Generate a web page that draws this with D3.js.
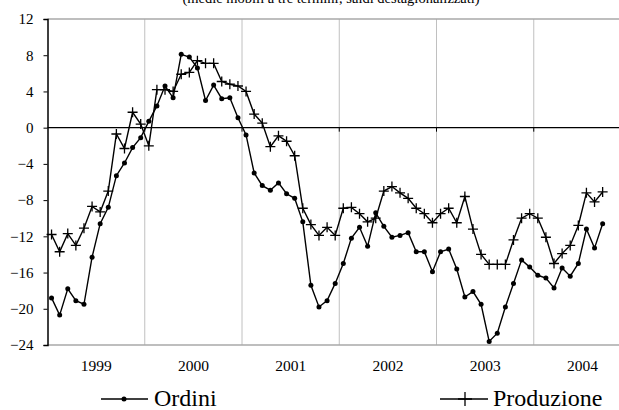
<!DOCTYPE html>
<html><head><meta charset="utf-8">
<script src="https://cdn.jsdelivr.net/npm/d3@7"></script>
<style>html,body{margin:0;padding:0;background:#fff;overflow:hidden}svg{display:block;font-family:"Liberation Serif","Times New Roman",serif}</style>
</head><body>
<svg id="c" width="619" height="410"></svg>
<script>
const title = "(medie mobili a tre termini; saldi destagionalizzati)";
const years = ["1999","2000","2001","2002","2003","2004"];
const yTicks = [12, 8, 4, 0, -4, -8, -12, -16, -20, -24];
const ordini = [
-18.8,-20.7,-17.8,-19.1,-19.5,-14.3,-10.6,-8.8,-5.3,-3.9,-2.2,-1.1,
0.7,2.4,4.6,3.3,8.1,7.8,6.6,3.0,4.7,3.2,3.3,1.1,
-0.8,-5.0,-6.4,-6.9,-6.1,-7.3,-7.8,-10.4,-17.4,-19.8,-19.1,-17.2,
-15.0,-12.2,-11.0,-13.1,-9.4,-10.9,-12.1,-11.9,-11.6,-13.7,-13.7,-15.9,
-13.7,-13.4,-15.6,-18.7,-18.1,-19.5,-23.6,-22.7,-19.8,-17.2,-14.6,-15.4,
-16.3,-16.6,-17.7,-15.5,-16.4,-15.0,-11.2,-13.3,-10.6];
const produzione = [
-11.8,-13.7,-11.7,-13.0,-11.1,-8.7,-9.3,-7.0,-0.7,-2.3,1.7,0.4,
-2.0,4.2,4.2,4.0,5.9,6.1,7.4,7.1,7.1,5.1,4.8,4.6,
4.0,1.5,0.5,-2.1,-0.9,-1.5,-3.1,-8.9,-10.7,-11.9,-11.0,-11.9,
-8.9,-8.8,-9.5,-10.4,-10.0,-7.0,-6.5,-7.2,-7.8,-8.9,-9.5,-10.5,
-9.5,-8.9,-10.5,-7.6,-11.2,-14.0,-15.1,-15.1,-15.1,-12.4,-10.0,-9.5,
-10.0,-12.1,-15.0,-13.9,-13.0,-10.8,-7.2,-8.2,-7.1];
const seriesNames = ["Ordini","Produzione"];

const svg = d3.select("#c");
const nMonths = years.length*12;
const x = d3.scaleLinear().domain([0,nMonths]).range([47.5,631]);
const y = d3.scaleLinear().domain([-24,12]).range([345,19]);

// title (clipped at top, as in the reference)
svg.append("text").attr("x",331).attr("y",2.5).attr("text-anchor","middle")
  .attr("font-size","14.5px").text(title);

// vertical year gridlines
svg.append("g").selectAll("line").data(d3.range(1,years.length))
  .join("line").attr("x1",d=>x(d*12)).attr("x2",d=>x(d*12))
  .attr("y1",y(12)).attr("y2",y(-24)).attr("stroke","#c0c0c0").attr("stroke-width",1);
// top & bottom border
[12,-24].forEach(v=>{
  svg.append("line").attr("x1",x(0)).attr("x2",x(nMonths)).attr("y1",y(v)).attr("y2",y(v))
    .attr("stroke","#a8a8a8").attr("stroke-width",1.5);
});

// zero axis with ticks
svg.append("line").attr("x1",x(0)).attr("x2",x(nMonths)).attr("y1",y(0)).attr("y2",y(0))
  .attr("stroke","#000").attr("stroke-width",1.2);
svg.append("g").selectAll("line").data(d3.range(1,years.length))
  .join("line").attr("x1",d=>x(d*12)).attr("x2",d=>x(d*12))
  .attr("y1",y(0)).attr("y2",y(0)+4).attr("stroke","#000").attr("stroke-width",1);

// y axis
const yAxis = d3.axisLeft(y).tickValues(yTicks).tickSize(4).tickPadding(10).tickFormat(d3.format("d"));
const ga = svg.append("g").attr("transform",`translate(${x(0)},0)`).call(yAxis);
ga.select(".domain").attr("stroke","#000").attr("stroke-width",1.5);
ga.selectAll(".tick line").attr("stroke","#000");
ga.selectAll("text").attr("font-size","15px").attr("font-family","Liberation Serif, serif").attr("fill","#000");

// x labels
svg.append("g").selectAll("text").data(years).join("text")
  .attr("x",(d,i)=>x(i*12+6)).attr("y",371).attr("text-anchor","middle")
  .attr("font-size","15.5px").text(d=>d);

const px = (d,i)=>x(i+0.5);
const line = d3.line().x(px).y(d=>y(d));

// produzione
svg.append("path").datum(produzione).attr("d",line).attr("fill","none")
  .attr("stroke","#000").attr("stroke-width",1.4);
svg.append("g").selectAll("path").data(produzione).join("path")
  .attr("d",(d,i)=>`M${px(d,i)-5},${y(d)}h10M${px(d,i)},${y(d)-5}v10`)
  .attr("stroke","#000").attr("stroke-width",1.3);
// ordini
svg.append("path").datum(ordini).attr("d",line).attr("fill","none")
  .attr("stroke","#000").attr("stroke-width",1.4);
svg.append("g").selectAll("circle").data(ordini).join("circle")
  .attr("cx",px).attr("cy",d=>y(d)).attr("r",2.5).attr("fill","#000");

// legend
const lg = svg.append("g");
lg.append("line").attr("x1",101).attr("x2",148).attr("y1",399).attr("y2",399).attr("stroke","#000").attr("stroke-width",1.4);
lg.append("circle").attr("cx",124).attr("cy",399).attr("r",2.5).attr("fill","#000");
lg.append("text").attr("x",154).attr("y",405.5).attr("font-size","24px").text(seriesNames[0]);
lg.append("line").attr("x1",440).attr("x2",488).attr("y1",399).attr("y2",399).attr("stroke","#000").attr("stroke-width",1.4);
lg.append("path").attr("d","M458,399h14M465,392v14").attr("stroke","#000").attr("stroke-width",1.3);
lg.append("text").attr("x",493).attr("y",405.5).attr("font-size","24px").text(seriesNames[1]);
</script>
</body></html>
